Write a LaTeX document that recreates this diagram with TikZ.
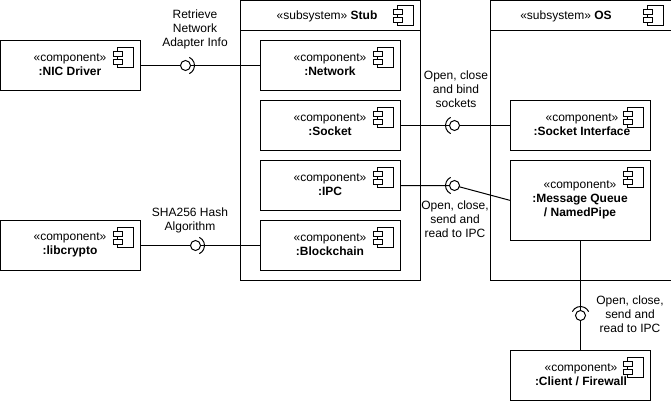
\documentclass[tikz,border=0pt]{standalone}
\usepackage{fontspec}
\setmainfont{Liberation Sans}
\tikzset{
  x=1pt,y=-1pt,
  comp/.style={draw=black,line width=1pt,rectangle,inner sep=0pt,outer sep=0pt,minimum width=140pt,minimum height=50pt,anchor=north west,fill=white},
  conn/.style={draw=black,line width=1pt},
  lab/.style={align=center,font=\fontsize{12}{14}\selectfont,inner sep=0pt,anchor=center},
  lolli/.style={circle,draw=black,line width=1pt,fill=white,minimum size=10pt,inner sep=0pt,outer sep=0pt},
}
\newcommand{\compicon}[2]{%
  \draw[line width=0.8pt,fill=white] (#1-16,#2) rectangle (#1,#2+20);
  \draw[line width=0.8pt,fill=white] (#1-20,#2+3.5) rectangle (#1-11,#2+8.5);
  \draw[line width=0.8pt,fill=white] (#1-20,#2+11.5) rectangle (#1-11,#2+16.5);
}
\newcommand{\ctxt}[4]{\node[lab] (#1) at (#2,#3) {«component»\\\textbf{#4}};}
\newcommand{\sockarc}[3]{\draw[line width=1pt] (#1) ++(#2:9) arc[start angle=#2,end angle=#3,radius=9];}
\begin{document}
\begin{tikzpicture}
\useasboundingbox (0,0) rectangle (671,401);
% subsystems
\node[comp,minimum width=180pt,minimum height=280pt] (stub) at (240.5,0.5) {};
\node[comp,minimum width=181pt,minimum height=280pt] (os) at (490.5,0.5) {};
\coordinate (stubhl) at (240.5,30.5); \coordinate (stubhr) at (420.5,30.5);
\coordinate (oshl) at (490.5,30.5); \coordinate (oshr) at (671,30.5);
\draw[conn] (stubhl) -- (stubhr);
\draw[conn] (oshl) -- (oshr);
\node[lab] (stubt) at (327,16.5) {«subsystem» \textbf{Stub}};
\node[lab] (ost) at (566,16.5) {«subsystem» \textbf{OS}};
\compicon{413.5}{5.5}
\compicon{663.5}{5.5}
% interface positions
\coordinate (i1) at (185.5,65.5);
\coordinate (i2) at (195.5,245.5);
\coordinate (i3) at (454.5,125.5);
\coordinate (i4) at (454.5,185.5);
\coordinate (i5) at (580.5,315.5);
\coordinate (mqw) at (510.5,200.5);
% components
\node[comp] (nic) at (0.5,40.5) {};
\node[comp] (lib) at (0.5,220.5) {};
\node[comp] (net) at (260.5,40.5) {};
\node[comp] (sock) at (260.5,100.5) {};
\node[comp] (ipc) at (260.5,160.5) {};
\node[comp] (bc) at (260.5,220.5) {};
\node[comp] (si) at (510.5,100.5) {};
\node[comp,minimum height=80pt] (mq) at (510.5,160.5) {};
\node[comp] (cl) at (510.5,350.5) {};
\draw[conn] (nic.east) -- (i1) -- (net.west);
\draw[conn] (lib.east) -- (i2) -- (bc.west);
\draw[conn] (sock.east) -- (i3) -- (si.west);
\draw[conn] (ipc.east) -- (i4) -- (mqw);
\draw[conn] (mq.south) -- (i5) -- (cl.north);
% lollipops
\foreach \p in {i1,i2,i3,i4,i5} \node[lolli] at (\p) {};
\sockarc{i1}{-65}{65}
\sockarc{i2}{-65}{65}
\sockarc{i3}{115}{245}
\sockarc{i4}{115}{245}
\sockarc{i5}{205}{335}
% icons
\compicon{133.5}{47.5}
\compicon{133.5}{227.5}
\compicon{393.5}{47.5}
\compicon{393.5}{107.5}
\compicon{393.5}{167.5}
\compicon{393.5}{227.5}
\compicon{643.5}{107.5}
\compicon{643.5}{167.5}
\compicon{643.5}{357.5}
% text
\ctxt{tnic}{70}{65}{:NIC Driver}
\ctxt{tlib}{70}{245}{:libcrypto}
\ctxt{tnet}{330}{65}{:Network}
\ctxt{tsock}{330}{125}{:Socket}
\ctxt{tipc}{330}{185}{:IPC}
\ctxt{tbc}{330}{245}{:Blockchain}
\ctxt{tsi}{582}{125}{:Socket Interface}
\node[lab] (tmq) at (580,199.5) {«component»\\\textbf{:Message Queue}\\\textbf{/ NamedPipe}};
\ctxt{tcl}{581}{375}{:Client / Firewall}
\node[lab] (l1) at (195,29) {Retrieve\\Network\\Adapter Info};
\node[lab] (l2) at (190,220) {SHA256 Hash\\Algorithm};
\node[lab] (l3) at (456,89) {Open, close\\and bind\\sockets};
\node[lab] (l4) at (455,219) {Open, close,\\send and\\read to IPC};
\node[lab] (l5) at (630,314) {Open, close,\\send and\\read to IPC};
\end{tikzpicture}
\end{document}
